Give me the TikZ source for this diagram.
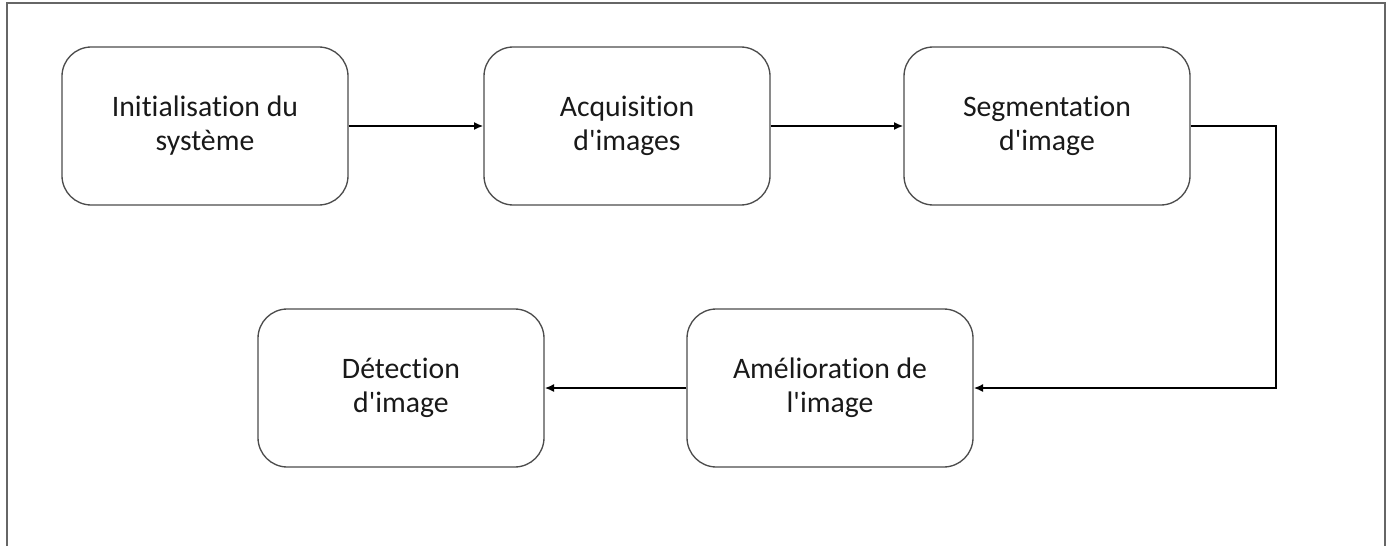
\documentclass[tikz,border=0pt]{standalone}
\usepackage{fontspec}
\setmainfont{Carlito}[Ligatures={NoCommon}]
\usetikzlibrary{arrows.meta}
\newcommand{\apos}{\textquotesingle}
\begin{document}
\begin{tikzpicture}[x=0.75pt,y=-0.75pt,
  stepbox/.style={draw=black!70, line width=1pt, rounded corners=22pt,
    minimum width=214.5pt, minimum height=118.5pt, align=center,
    font=\fontsize{22.3}{25.5}\selectfont, text=black!90, inner sep=0pt},
  conn/.style={line width=1.5pt, -{Latex[length=7pt,width=6pt]}}]
\useasboundingbox (0,0) rectangle (1394,546);
\draw[black!60, line width=1.4pt] (7,546) -- (7,3) -- (1385,3) -- (1385,546);
\node[stepbox] (init) at (205,126) {Initialisation du\\système};
\node[stepbox] (acq) at (627,126) {Acquisition\\d\apos images};
\node[stepbox] (seg) at (1047,126) {Segmentation\\d\apos image};
\node[stepbox] (det) at (401,388) {Détection\\d\apos image};
\node[stepbox] (ame) at (830,388) {Amélioration de\\l\apos image};
\coordinate (c1) at (1276,126);
\coordinate (c2) at (1276,388);
\draw[conn] (init) -- (acq);
\draw[conn] (acq) -- (seg);
\draw[conn, rounded corners=0pt] (seg.east) -- (c1) -- (c2) -- (ame.east);
\draw[conn] (ame) -- (det);
\end{tikzpicture}
\end{document}
